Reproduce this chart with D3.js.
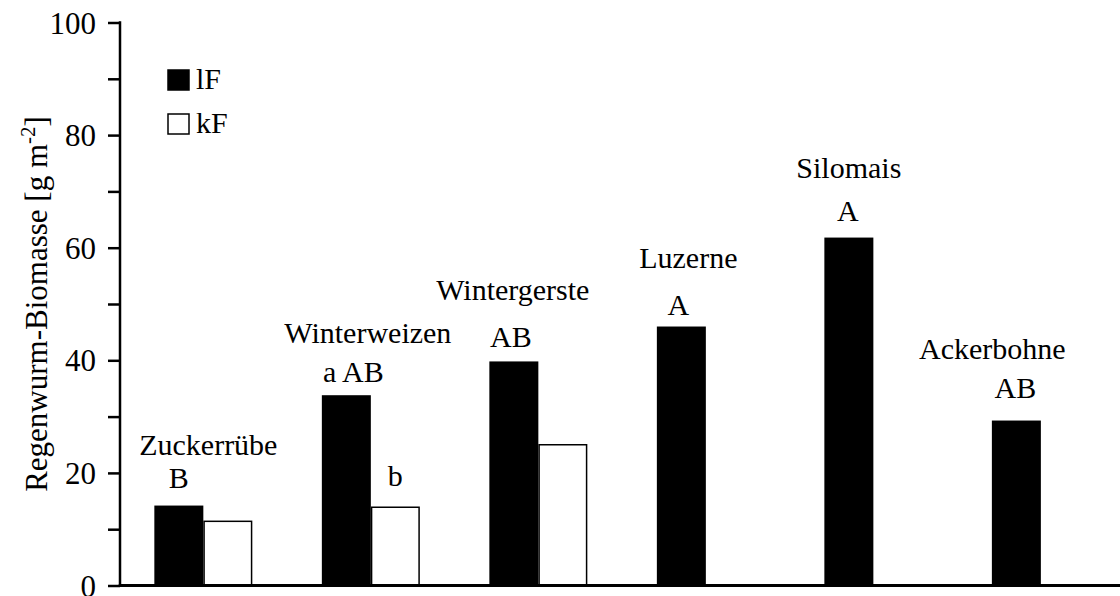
<!DOCTYPE html>
<html>
<head>
<meta charset="utf-8">
<script src="https://cdn.jsdelivr.net/npm/d3@7"></script>
<style>
  html, body { margin: 0; padding: 0; background: #fff; }
</style>
</head>
<body>
<svg id="chart" width="1120" height="596"></svg>
<script>
// ---- data ----
const crops = ["Zuckerrübe", "Winterweizen", "Wintergerste", "Luzerne", "Silomais", "Ackerbohne"];
const seriesNames = ["lF", "kF"];
const lfValues = [14.2, 33.8, 39.8, 46.0, 61.8, 29.3];
const kfValues = [11.4, 13.9, 25.0, null, null, null];
const lfLetters = ["B", "a AB", "AB", "A", "A", "AB"];
const kfLetters = ["", "b", "", "", "", ""];
const yTicks = [0, 20, 40, 60, 80, 100];

// ---- layout ----
const FONT = "Liberation Serif";
const svg = d3.select("#chart").attr("font-family", FONT);
const mLeft = 120, mRight = 1120, mTop = 22.5, mBottom = 585.5;
const labelNudge = [5, -3, -1, 7, 0, -24];   // crop name x offsets
const letterNudge = [0, 7, -3, -3, -1, -1];  // letter x offsets
const letterGap = [18, 13, 14, 12, 17, 23];  // px between bar top and letter baseline
const nameGap = [33, 39, 47, 47, 43, 39];    // px between letter baseline and name baseline

const y = d3.scaleLinear().domain([0, 100]).range([mBottom, mTop]);
const x0 = d3.scaleBand().domain(crops).range([mLeft, 1124.2]).paddingInner(0.415).paddingOuter(0.205);
const x1 = d3.scaleBand().domain(seriesNames).range([0, x0.bandwidth()]);

const rows = crops.map((c, i) => ({ crop: c, lF: lfValues[i], kF: kfValues[i], i }));

// bars
const g = svg.append("g");
rows.forEach(r => {
  seriesNames.forEach(s => {
    const v = r[s];
    if (v == null) return;
    g.append("rect")
      .attr("x", x0(r.crop) + x1(s) + (s === "kF" ? 0.75 : 0))
      .attr("y", y(v))
      .attr("width", x1.bandwidth() - (s === "kF" ? 1.5 : 0))
      .attr("height", y(0) - y(v))
      .attr("fill", s === "lF" ? "#000" : "#fff")
      .attr("stroke", "#000")
      .attr("stroke-width", s === "lF" ? 0 : 1.5);
  });
});

// annotations
const annot = svg.append("g").attr("font-family", FONT).attr("font-size", 30).attr("fill", "#000").attr("text-anchor", "middle");
rows.forEach(r => {
  const cx = x0(r.crop) + x1("lF") + x1.bandwidth() / 2;
  const hasKf = r.kF != null;
  const letterY = y(r.lF) - letterGap[r.i];
  annot.append("text")
    .attr("x", cx + letterNudge[r.i])
    .attr("y", letterY)
    .text(lfLetters[r.i]);
  const nameX = (r.i < 2 ? x0(r.crop) + x0.bandwidth() / 2 : cx) + labelNudge[r.i];
  annot.append("text")
    .attr("x", nameX)
    .attr("y", letterY - nameGap[r.i])
    .text(r.crop);
  if (hasKf && kfLetters[r.i]) {
    const kx = x0(r.crop) + x1("kF") + x1.bandwidth() / 2;
    annot.append("text")
      .attr("x", kx)
      .attr("y", y(r.kF) - 21)
      .text(kfLetters[r.i]);
  }
});

// y axis
const yAxis = d3.axisLeft(y)
  .tickValues(d3.range(0, 101, 10))
  .tickSize(12)
  .tickPadding(12)
  .tickFormat(d => yTicks.includes(d) ? d : "");
const ya = svg.append("g").attr("transform", `translate(${mLeft},0)`).call(yAxis);
ya.attr("font-family", FONT);
ya.select(".domain").remove();
ya.selectAll(".tick line").attr("stroke", "#000").attr("stroke-width", 2.5);
ya.selectAll(".tick text").attr("font-size", 31).attr("font-family", FONT).attr("fill", "#000").attr("dy", "0.34em");
svg.append("line").attr("x1", mLeft).attr("x2", mLeft).attr("y1", y(100) - 1.25).attr("y2", mBottom)
  .attr("stroke", "#000").attr("stroke-width", 2.5);

// x axis line
svg.append("line").attr("x1", mLeft - 1.25).attr("x2", mRight).attr("y1", mBottom).attr("y2", mBottom)
  .attr("stroke", "#000").attr("stroke-width", 3);

// y label
const yl = svg.append("text")
  .attr("transform", `translate(47,${(mTop + mBottom) / 2}) rotate(-90)`)
  .attr("text-anchor", "middle")
  .attr("font-family", FONT)
  .attr("font-size", 31)
  .attr("fill", "#000");
yl.append("tspan").text("Regenwurm-Biomasse [g m");
yl.append("tspan").attr("dy", -12).attr("font-size", 21).text("-2");
yl.append("tspan").attr("dy", 12).text("]");

// legend
const leg = svg.append("g").attr("font-family", FONT).attr("font-size", 30).attr("fill", "#000");
seriesNames.forEach((s, i) => {
  const ly = 70 + i * 44;
  leg.append("rect").attr("x", 168).attr("y", ly).attr("width", 21).attr("height", 20)
    .attr("fill", s === "lF" ? "#000" : "#fff").attr("stroke", "#000").attr("stroke-width", 1.5);
  leg.append("text").attr("x", 196).attr("y", ly + 19).text(s);
});
</script>
</body>
</html>
